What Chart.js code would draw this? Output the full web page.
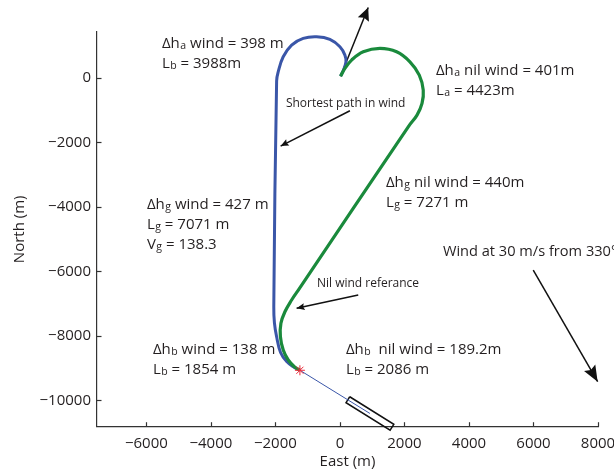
<!DOCTYPE html>
<html><head><meta charset="utf-8">
<script src="https://cdn.jsdelivr.net/npm/chart.js@4/dist/chart.umd.min.js"></script>
<style>html,body{margin:0;padding:0;background:#fff;overflow:hidden}#wrap{width:614px;height:472px}</style>
</head><body><div id="wrap"><canvas id="c" width="614" height="472"></canvas></div>
<script>
// Tick labels
const xTicks = [-6000, -4000, -2000, 0, 2000, 4000, 6000, 8000];
const yTicks = [-10000, -8000, -6000, -4000, -2000, 0];

// Shortest path in wind (blue), from the red star to the start point
const windX = [-1240, -1420, -1650, -1840, -1962, -2030, -2050, -1962, -1913, -1758, -1497, -1138, -722, -310, 0, 155, 186, 110, 20];
const windY = [-9070, -8975, -8800, -8520, -8029, -7600, -7100, -100, 186, 651, 1014, 1221, 1271, 1190, 961, 704, 496, 240, 50];

// Nil wind reference (green)
const nilX = [20, 155, 362, 723, 1240, 1757, 2170, 2460, 2583, 2545, 2390, 2118, -1300, -1497, -1705, -1829, -1845, -1757, -1602, -1395, -1240];
const nilY = [50, 291, 549, 806, 911, 806, 496, 84, -381, -794, -1156, -1519, -6600, -6891, -7254, -7614, -8029, -8441, -8751, -8978, -9070];

// Final approach line (thin blue) and runway outline
const approachX = [-1240, 930];
const approachY = [-9070, -10410];
const runwayX = [304, 189, 1556, 1671, 304];
const runwayY = [-9891, -10075, -10928, -10745, -9891];

// Gate point (red star)
const starX = [-1240];
const starY = [-9070];

// Arrows: tail -> tip
const arrowTailX = [20, 310, 568, 5993];
const arrowTailY = [50, -1023, -6736, -5961];
const arrowTipX = [877, -1838, -1343, 7989];
const arrowTipY = [2182, -2117, -7149, -9424];

// Text labels (anchor = left / middle of first line, in data units)
const labelTexts = [
  ['Δh{a} wind = 398 m', 'L{b} = 3988m'],
  ['Δh{a} nil wind = 401m', 'L{a} = 4423m'],
  ['Δh{g} nil wind = 440m', 'L{g} = 7271 m'],
  ['Δh{g} wind = 427 m', 'L{g} = 7071 m', 'V{g} = 138.3'],
  ['Wind at 30 m/s from 330°'],
  ['Δh{b} wind = 138 m', 'L{b} = 1854 m'],
  ['Δh{b}  nil wind = 189.2m', 'L{b} = 2086 m'],
  ['Shortest path in wind'],
  ['Nil wind referance']
];
const labelX = [-5518, 2976, 1426, -5983, 3193, -5797, 186, -1674, -713];
const labelY = [1076, 239, -3233, -3915, -5372, -8413, -8413, -784, -6364];

const pts = (xs, ys) => xs.map((x, i) => ({x, y: ys[i]}));
const FONT = '"Open Sans", "DejaVu Sans", sans-serif';
const TXT = '#231f20';
const BLUE = '#3a56a8';
const GREEN = '#1a8a3c';

const arrowStyle = {
  head: [[13, 6], [8, 3.5], [8, 3.5], [16, 6.5]]
};
const labelSizes = [15, 15, 15, 15, 14.6, 15, 15, 12, 12];

const arrowDatasets = arrowTailX.map((x, i) => ({
  data: [{x, y: arrowTailY[i]}, {x: arrowTipX[i], y: arrowTipY[i]}],
  showLine: true, borderColor: '#111', borderWidth: 1.5, pointRadius: 0, clip: false
}));

const overlay = {
  id: 'overlay',
  afterDatasetsDraw(chart) {
    const ctx = chart.ctx, xs = chart.scales.x, ys = chart.scales.y;
    const ca = chart.chartArea;
    // inward tick marks
    ctx.save();
    ctx.strokeStyle = '#333'; ctx.lineWidth = 1.2;
    xTicks.forEach(v => { const p = Math.round(xs.getPixelForValue(v)) + 0.5; ctx.beginPath(); ctx.moveTo(p, ca.bottom); ctx.lineTo(p, ca.bottom - 4.5); ctx.stroke(); });
    yTicks.forEach(v => { const p = Math.round(ys.getPixelForValue(v)) + 0.5; ctx.beginPath(); ctx.moveTo(ca.left, p); ctx.lineTo(ca.left + 4.5, p); ctx.stroke(); });
    // arrow heads
    ctx.fillStyle = '#111';
    arrowTailX.forEach((x, i) => {
      const x0 = xs.getPixelForValue(x), y0 = ys.getPixelForValue(arrowTailY[i]);
      const x1 = xs.getPixelForValue(arrowTipX[i]), y1 = ys.getPixelForValue(arrowTipY[i]);
      const a = Math.atan2(y1 - y0, x1 - x0);
      const [L, W] = arrowStyle.head[i];
      const bx = x1 - L * Math.cos(a), by = y1 - L * Math.sin(a);
      ctx.beginPath();
      ctx.moveTo(x1, y1);
      ctx.lineTo(bx + W * Math.sin(a), by - W * Math.cos(a));
      ctx.lineTo(bx + L * 0.15 * Math.cos(a), by + L * 0.15 * Math.sin(a));
      ctx.lineTo(bx - W * Math.sin(a), by + W * Math.cos(a));
      ctx.closePath(); ctx.fill();
    });
    // labels
    ctx.fillStyle = TXT;
    ctx.textBaseline = 'alphabetic';
    ctx.textAlign = 'left';
    labelTexts.forEach((lines, i) => {
      const size = labelSizes[i];
      const lh = size * 1.33;
      let y = ys.getPixelForValue(labelY[i]) + size * 0.36;
      const x0 = xs.getPixelForValue(labelX[i]);
      lines.forEach(line => {
        let x = x0;
        const parts = line.split(/(\{[^}]*\})/).filter(s => s.length);
        parts.forEach(p => {
          if (p[0] === '{') {
            const t = p.slice(1, -1);
            ctx.font = (size * 0.7) + 'px ' + FONT;
            ctx.fillText(t, x + 0.5, y + 0.5);
            x += ctx.measureText(t).width + 0.5;
          } else {
            ctx.font = size + 'px ' + FONT;
            ctx.fillText(p, x, y);
            x += ctx.measureText(p).width;
          }
        });
        y += lh;
      });
    });
    ctx.restore();
  }
};

const fmt = v => v < 0 ? '\u2212' + Math.abs(v) : String(v);

new Chart(document.getElementById('c'), {
  type: 'scatter',
  data: {
    datasets: [
      {data: pts(starX, starY), pointStyle: 'star', pointRadius: 5, borderColor: '#ee2a3a', borderWidth: 1, backgroundColor: '#ee2a3a', clip: false},
      {data: pts(nilX, nilY), showLine: true, borderColor: GREEN, borderWidth: 3.2, pointRadius: 0, tension: 0.4, clip: false},
      {data: pts(windX, windY), showLine: true, borderColor: BLUE, borderWidth: 3, pointRadius: 0, tension: 0.4, clip: false},
      {data: pts(approachX, approachY), showLine: true, borderColor: BLUE, borderWidth: 1, pointRadius: 0},
      {data: pts(runwayX, runwayY), showLine: true, borderColor: '#111', borderWidth: 1.5, pointRadius: 0, clip: false},
      ...arrowDatasets
    ]
  },
  options: {
    responsive: false, animation: false, events: [],
    layout: {padding: {top: 32, right: 16, left: 0, bottom: 0}},
    plugins: {legend: {display: false}, tooltip: {enabled: false}},
    scales: {
      x: {
        type: 'linear', min: -7530, max: 8000,
        afterFit(s) { s.height = 45.3; s.paddingLeft = 0; s.paddingRight = 0; },
        afterBuildTicks(s) { s.ticks = xTicks.map(v => ({value: v})); },
        grid: {display: false, drawTicks: false},
        border: {display: true, color: '#333', width: 1.2},
        ticks: {font: {family: FONT, size: 15}, color: TXT, padding: 8, maxRotation: 0, callback: fmt},
        title: {display: true, text: 'East (m)', font: {family: FONT, size: 15}, color: TXT, padding: {top: 0, bottom: 1}}
      },
      y: {
        type: 'linear', min: -10820, max: 1420,
        afterFit(s) { s.width = 97; s.paddingTop = 0; s.paddingBottom = 0; },
        afterBuildTicks(s) { s.ticks = yTicks.map(v => ({value: v})); },
        grid: {display: false, drawTicks: false},
        border: {display: true, color: '#333', width: 1.2},
        ticks: {font: {family: FONT, size: 15}, color: TXT, padding: 6, callback: fmt},
        title: {display: true, text: 'North (m)', font: {family: FONT, size: 15}, color: TXT, padding: {top: 11, bottom: 0}}
      }
    }
  },
  plugins: [overlay]
});
</script>
</body></html>
